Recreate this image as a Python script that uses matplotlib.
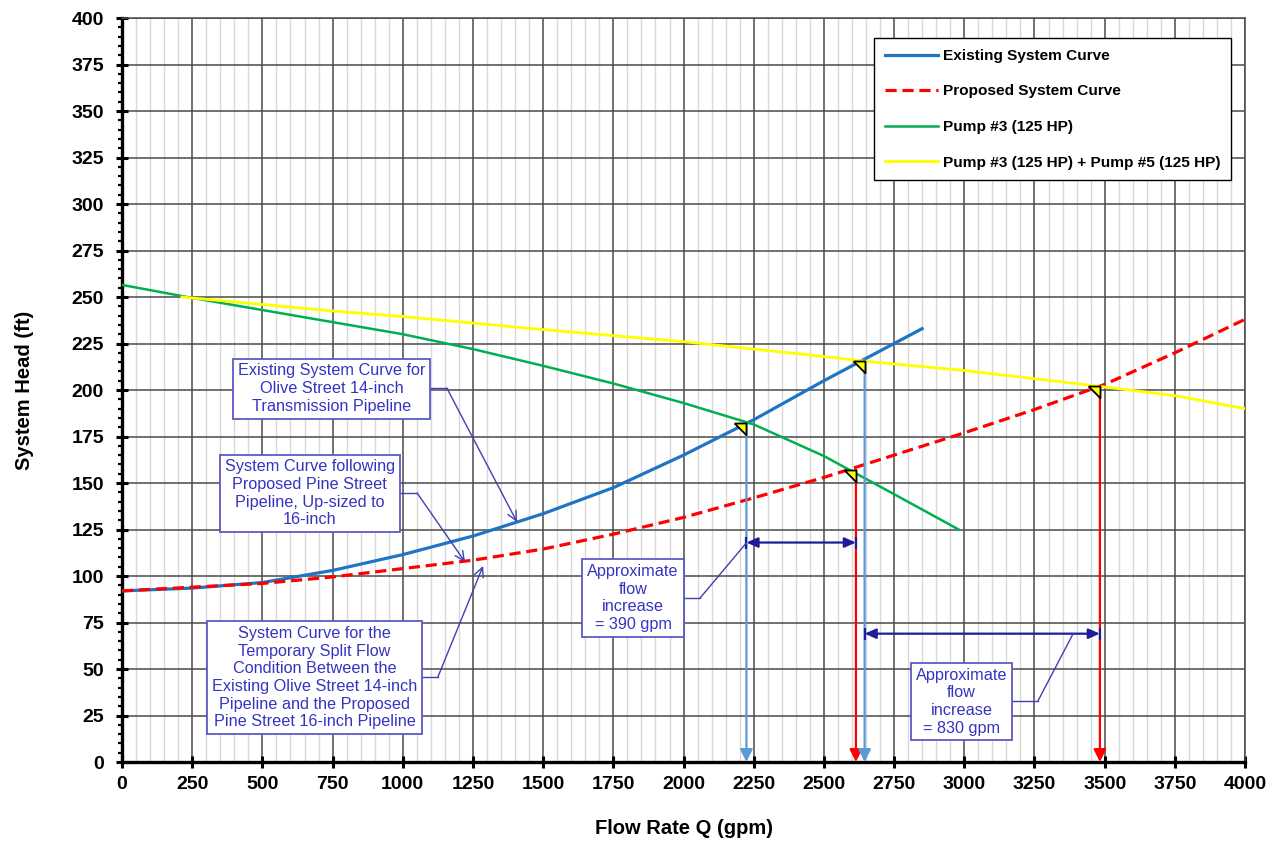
import numpy as np
import matplotlib
matplotlib.use('Agg')
import matplotlib.pyplot as plt
from matplotlib.ticker import MultipleLocator

plt.rcParams['font.family'] = ['Liberation Sans', 'DejaVu Sans']

# curves (flow in gpm, head in ft)
q_exist = [0, 250, 500, 750, 1000, 1250, 1500, 1750, 2000, 2250, 2500, 2750, 2850]
h_exist = [92, 93.5, 96.5, 103, 111.5, 121.5, 133.5, 147.5, 165, 184, 205, 225, 233]

q_prop = [0, 250, 500, 750, 1000, 1250, 1500, 1750, 2000, 2250, 2500, 2750,
          3000, 3250, 3500, 3750, 4000]
h_prop = [92, 94, 96, 99.5, 104, 108.5, 114.5, 122.5, 131.5, 142, 153, 165,
          177, 189.5, 203, 220, 238]

q_pump3 = [0, 250, 500, 750, 1000, 1250, 1500, 1750, 2000, 2250, 2500, 2750, 2980]
h_pump3 = [256.5, 249.5, 243, 236.5, 230, 222, 213, 203.5, 193, 181.5, 164.5, 144, 125]

q_pump35 = [213, 500, 750, 1000, 1500, 2000, 2500, 2645, 3000, 3480, 3750, 4000]
h_pump35 = [250, 246, 242.5, 239.5, 232.5, 226, 218, 215.5, 210.5, 202, 197, 190]

labels = ['Existing System Curve', 'Proposed System Curve',
          'Pump #3 (125 HP)', 'Pump #3 (125 HP) + Pump #5 (125 HP)']

# operating points
op_q = [2224, 2614, 2645, 3483]
op_h = [182, 157, 215.5, 202]
op_col = ['#5b9bd5', '#ff0000', '#5b9bd5', '#ff0000']

# flow increase brackets
inc_h = [118, 69]
inc_q0 = [2224, 2645]
inc_q1 = [2614, 3483]

notes = ['Existing System Curve for\nOlive Street 14-inch\nTransmission Pipeline',
         'System Curve following\nProposed Pine Street\nPipeline, Up-sized to\n16-inch',
         'System Curve for the\nTemporary Split Flow\nCondition Between the\n'
         'Existing Olive Street 14-inch\nPipeline and the Proposed\nPine Street 16-inch Pipeline',
         'Approximate\nflow\nincrease\n= 390 gpm',
         'Approximate\nflow\nincrease\n= 830 gpm']

fig = plt.figure(figsize=(12.78, 8.42), dpi=100)
ax = fig.add_axes([0.0955, 0.095, 0.8787, 0.8836])

ax.plot(q_exist, h_exist, color='#1f74c4', lw=2.3, label=labels[0], zorder=4)
ax.plot(q_prop, h_prop, color='#ff0000', lw=2.3, dashes=(3.5, 1.8), label=labels[1], zorder=4)
ax.plot(q_pump3, h_pump3, color='#00b050', lw=1.8, label=labels[2], zorder=4)
ax.plot(q_pump35, h_pump35, color='#ffff00', lw=2.0, label=labels[3], zorder=4)

# drop lines to the flow axis
for q, h, c in zip(op_q, op_h, op_col):
    ax.annotate('', xy=(q, 0), xytext=(q, h),
                arrowprops=dict(arrowstyle='-|>,head_length=0.5,head_width=0.25',
                                color=c, lw=1.6, shrinkA=0, shrinkB=0,
                                mutation_scale=15), zorder=5)

# operating point markers
tri = [(-1, 0), (0, 0), (0, -1), (-1, 0)]
ax.plot(op_q, op_h, ls='none', marker=tri, ms=17, mfc='#ffff00', mec='black',
        mew=1.3, zorder=7)

# flow increase brackets
navy = '#1c1c9c'
for y, a, b in zip(inc_h, inc_q0, inc_q1):
    ax.annotate('', xy=(b, y), xytext=(a, y),
                arrowprops=dict(arrowstyle='<|-|>,head_length=0.45,head_width=0.2',
                                color=navy, lw=1.6, shrinkA=0, shrinkB=0,
                                mutation_scale=15), zorder=6)
    ax.plot([a, b], [y, y], ls='none', marker='|', ms=9, mew=1.6, color=navy, zorder=6)

# annotation boxes with leader lines
txt_col = '#3434c0'
lead_col = '#4040b0'
box_xy = [(746, 200.8), (668, 144.4), (686, 45.4), (1820, 88.2), (2990, 32.5)]
lead_pts = [[(1090, 201), (1157, 201), (1407, 129)],
            [(980, 144.6), (1051, 144.6), (1222, 107.5)],
            [(1060, 45.7), (1125, 45.7), (1286, 105.4)],
            [(1990, 88.2), (2059, 88.2), (2225, 118)],
            [(3160, 33), (3263, 33), (3387, 68.8)]]
with_head = [True, True, True, False, False]

for t, (x, y), pts, hd in zip(notes, box_xy, lead_pts, with_head):
    ax.text(x, y, t, ha='center', va='center', multialignment='center',
            fontsize=11.7, color=txt_col, linespacing=1.22, zorder=8,
            bbox=dict(boxstyle='square,pad=0.3', fc='white', ec='#5a5ac8', lw=1.3))
    ax.plot([pts[0][0], pts[1][0]], [pts[0][1], pts[1][1]], color=lead_col, lw=1, zorder=6)
    style = '->,head_length=0.45,head_width=0.22' if hd else '-'
    ax.annotate('', xy=pts[2], xytext=pts[1],
                arrowprops=dict(arrowstyle=style, color=lead_col, lw=1,
                                shrinkA=0, shrinkB=0, mutation_scale=15), zorder=6)

ax.set_xlim(0, 4000)
ax.set_ylim(0, 400)
ax.xaxis.set_major_locator(MultipleLocator(250))
ax.xaxis.set_minor_locator(MultipleLocator(50))
ax.yaxis.set_major_locator(MultipleLocator(25))
ax.yaxis.set_minor_locator(MultipleLocator(5))

ax.grid(which='major', color='#4a4a4a', lw=1.1, zorder=1)
ax.grid(which='minor', axis='x', color='#d8d8d8', lw=1.0, zorder=0)
ax.set_axisbelow(True)

ax.tick_params(which='major', direction='inout', length=8, width=2.2,
               labelsize=14, color='black')
ax.tick_params(axis='y', which='major', pad=9)
ax.tick_params(axis='x', which='major', pad=6)
ax.tick_params(axis='x', which='minor', length=0)
ax.tick_params(axis='y', which='minor', direction='out', length=3, width=1.6)
for lab in ax.get_xticklabels() + ax.get_yticklabels():
    lab.set_fontweight('bold')

for s in ['left', 'bottom']:
    ax.spines[s].set_linewidth(2.4)
    ax.spines[s].set_color('black')
for s in ['top', 'right']:
    ax.spines[s].set_linewidth(1.1)
    ax.spines[s].set_color('#4a4a4a')

ax.set_xlabel('Flow Rate Q (gpm)', fontsize=14.5, fontweight='bold', labelpad=19)
ax.set_ylabel('System Head (ft)', fontsize=14.5, fontweight='bold', labelpad=27)

leg = ax.legend(loc='upper right', bbox_to_anchor=(0.9875, 0.973), borderaxespad=0,
                prop={'weight': 'bold', 'size': 11.1}, handlelength=3.45,
                labelspacing=1.4, borderpad=0.7, handletextpad=0.3,
                fancybox=False, framealpha=1, edgecolor='black')
leg.get_frame().set_linewidth(1.0)
leg.set_zorder(9)

fig.savefig('out.png', dpi=100)
